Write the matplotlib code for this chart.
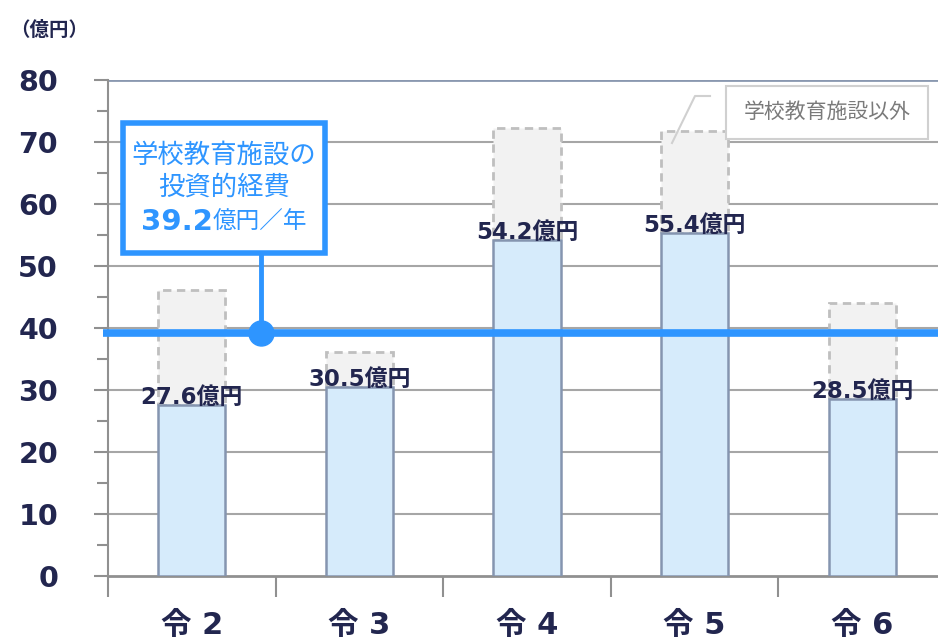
import matplotlib
matplotlib.use("Agg")
import matplotlib.pyplot as plt
from matplotlib.patches import FancyBboxPatch

plt.rcParams['font.family'] = ['Noto Sans CJK JP', 'DejaVu Sans']
numfont = ['DejaVu Sans', 'Noto Sans CJK JP']

# data
years = ['令2', '令3', '令4', '令5', '令6']
school = [27.6, 30.5, 54.2, 55.4, 28.5]      # 学校教育施設
total = [46.1, 36.1, 72.3, 71.8, 44.0]       # incl. 学校教育施設以外
average = 39.2
yticks = [0, 10, 20, 30, 40, 50, 60, 70, 80]

navy = '#22264f'
blue = '#2e95ff'

fig = plt.figure(figsize=(9.38, 6.39), dpi=100)
ax = fig.add_axes([108/938, 1-576/639, 838/938, 496/639])

x = range(len(years))
other = [t - s for t, s in zip(total, school)]
ax.bar(x, other, bottom=school, width=0.4, color='#f2f2f2', edgecolor='#bfbfbf',
       linewidth=2, linestyle=(0, (3, 2)), zorder=2)
ax.bar(x, school, width=0.4, color='#d6ebfb', edgecolor='#8595b0', linewidth=1.8, zorder=3)

for i, v in enumerate(school):
    ax.text(i, v + 0.15, f'{v}億円', ha='center', va='baseline', fontsize=16.5,
            fontweight='bold', color=navy, zorder=5, family=numfont)

ax.set_xlim(-0.5, 4.5)
ax.set_ylim(0, 80)
ax.set_yticks(yticks)
ax.set_yticklabels([str(t) for t in yticks], fontsize=20.5, fontweight='bold', color=navy,
                   family=numfont)
ax.set_yticks(range(5, 80, 10), minor=True)
ax.tick_params(axis='y', which='major', length=10, width=1.5, color='#909090', pad=26)
ax.tick_params(axis='y', which='minor', length=8, width=1.5, color='#909090')
ax.set_xticks([i - 0.5 for i in range(6)])
ax.set_xticklabels([])
ax.set_xticks(list(x), minor=True)
ax.set_xticklabels([y.replace('令', '令 ') for y in years], minor=True, fontsize=22,
                   fontweight='bold', color=navy, family=numfont)
ax.tick_params(axis='x', which='minor', length=0, pad=25)
ax.tick_params(axis='x', which='major', length=15, width=1.5, color='#909090')

for t in yticks[1:-1]:
    ax.axhline(t, color='#a6a6a6', linewidth=1.5, zorder=1)
ax.axhline(80, color='#8a98b0', linewidth=2, zorder=1)

for s in ['top', 'right']:
    ax.spines[s].set_visible(False)
ax.spines['left'].set_color('#909090')
ax.spines['left'].set_linewidth(1.5)
ax.spines['bottom'].set_color('#909090')
ax.spines['bottom'].set_linewidth(2)

# average line with callout
ax.plot([-0.53, 4.5], [average, average], color=blue, linewidth=5.5, zorder=6,
        clip_on=False, solid_capstyle='butt')
ax.plot([0.41, 0.41], [average, 52.5], color=blue, linewidth=3.5, zorder=6)
ax.plot([0.41], [average], 'o', color=blue, markersize=18, zorder=7)

box = FancyBboxPatch((123/938, 1-253/639), 202/938, 130/639, boxstyle='square,pad=0',
                     transform=fig.transFigure, facecolor='white', edgecolor=blue,
                     linewidth=4, zorder=8)
fig.patches.append(box)
fig.text(224/938, 1-155/639, '学校教育施設の', ha='center', va='center', fontsize=19,
         color=blue, zorder=9)
fig.text(224/938, 1-187/639, '投資的経費', ha='center', va='center', fontsize=19,
         color=blue, zorder=9)
fig.text(213/938, 1-222/639, '39.2', ha='right', va='center', fontsize=21,
         fontweight='bold', color=blue, zorder=9, family=numfont)
fig.text(213/938, 1-222/639, '億円／年', ha='left', va='center', fontsize=17,
         color=blue, zorder=9)

# legend callout for the gray bars
lbox = FancyBboxPatch((726/938, 1-139/639), 202/938, 53/639, boxstyle='square,pad=0',
                      transform=fig.transFigure, facecolor='white', edgecolor='#d0d0d0',
                      linewidth=1.5, zorder=8)
fig.patches.append(lbox)
fig.text(827/938, 1-112/639, '学校教育施設以外', ha='center', va='center', fontsize=15,
         color='#7a7a7a', zorder=9)
fig.add_artist(plt.Line2D([672/938, 695/938, 710/938], [1-143/639, 1-96/639, 1-96/639],
                          transform=fig.transFigure, color='#d0d0d0', linewidth=1.5))

fig.text(10/938, 1-30/639, '（億円）', ha='left', va='center', fontsize=14,
         fontweight='bold', color=navy)

fig.savefig('out.png', dpi=100)
